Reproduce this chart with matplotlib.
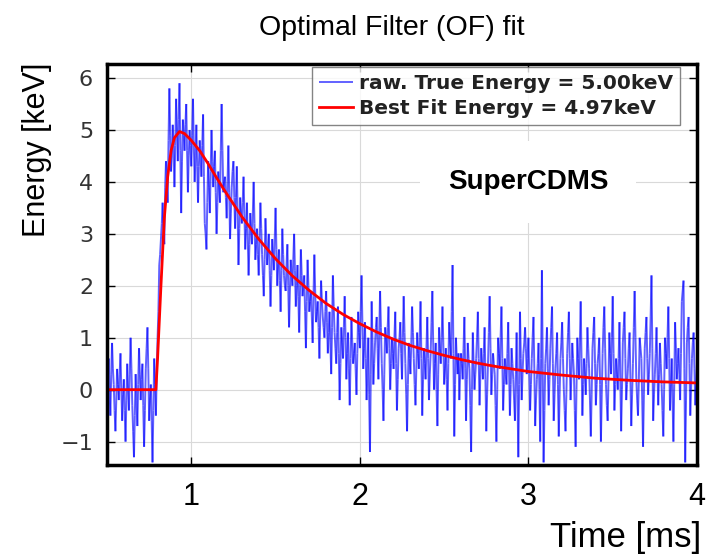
import matplotlib
matplotlib.use("Agg")
import matplotlib.pyplot as plt
import numpy as np
from matplotlib.collections import LineCollection

# raw pulse: samples on the 0.01 ms grid starting at 0.50 ms
t_start = 0.50
t_step = 0.01
raw_energy = [
    -0.3, 0.6, -0.5, 0.9, 0.1, -0.8, 0.4, -0.2, 0.7, -0.6,
    0.2, -1.0, 0.5, -0.4, 1.0, -0.3, -1.3, 0.3, -0.7, 0.8,
    -0.2, 0.5, -1.1, 0.4, 1.2, -0.6, 0.1, -1.4, 0.6, -0.5,
    1.0, 2.4, 2.9, 3.6, 2.8, 4.4, 3.6, 5.8, 4.2, 5.1,
    3.9, 5.6, 4.4, 5.9, 3.4, 5.2, 4.6, 5.5, 3.8, 5.0,
    4.3, 5.6, 4.0, 5.1, 3.6, 4.8, 4.1, 5.3, 3.2, 2.7,
    4.4, 3.4, 5.0, 3.9, 4.6, 3.0, 4.2, 3.6, 5.5, 3.8,
    4.1, 3.3, 4.7, 2.9, 3.9, 4.4, 3.1, 4.3, 2.4, 3.7,
    3.2, 4.1, 2.7, 3.6, 2.2, 3.4, 2.8, 4.0, 2.5, 3.1,
    2.2, 3.6, 2.6, 1.8, 3.3, 2.4, 3.0, 1.6, 2.9, 2.3,
    3.5, 2.0, 2.7, 1.5, 3.1, 2.2, 1.9, 2.8, 1.2, 2.5,
    2.0, 3.0, 1.6, 2.4, 1.1, 2.7, 1.8, 2.2, 0.8, 2.5,
    1.5, 1.9, 0.9, 2.6, 1.3, 1.7, 0.6, 2.1, 1.4, 1.0,
    1.9, 0.7, 1.5, 0.3, 2.2, 1.1, 0.5, 1.6, -0.2, 1.2,
    0.6, 1.8, 0.2, 1.1, -0.3, 1.4, 0.5, 0.9, -0.1, 1.5,
    0.8, 2.2, 0.4, 1.3, -0.2, 1.0, -1.2, 1.7, 0.1, 0.9,
    1.4, 0.2, 1.9, 0.5, -0.6, 1.2, 0.7, 1.6, 0.0, 1.0,
    0.4, 1.5, -0.4, 0.8, 1.3, 0.2, 1.8, 0.5, -0.8, 0.9,
    0.3, 1.6, 0.6, -0.3, 1.1, 0.4, 1.7, -0.5, 0.8, 0.2,
    1.4, -0.2, 0.7, 1.9, 0.0, 0.9, -0.7, 1.2, 0.5, 1.6,
    0.1, 0.8, -0.4, 1.3, 0.6, 2.4, -0.9, 1.0, 0.3, -0.2,
    0.7, 0.2, 1.4, -0.6, 0.9, 0.4, -1.2, 1.1, 0.0, 0.6,
    1.5, -0.3, 0.8, 0.2, 1.2, -0.8, 0.5, 1.8, -0.1, 0.7,
    0.3, -1.0, 1.0, 0.4, 1.6, -0.4, 0.6, 0.1, 1.3, -0.5,
    0.8, 0.2, -0.6, 1.1, -1.3, 1.5, -0.2, 0.7, 1.2, 0.3,
    1.0, -0.4, 0.6, 1.4, -0.7, 0.2, 0.9, -1.0, 2.3, -1.4,
    0.5, 1.2, -0.3, 0.8, 1.6, -0.6, 0.4, 1.1, -0.9, 0.6,
    1.3, 0.0, -0.8, 0.7, 1.5, -0.2, 0.9, 0.3, -1.1, 1.0,
    0.2, 1.7, -0.5, 0.6, -0.1, 1.2, 0.4, -0.9, 0.8, 1.4,
    -0.3, 0.5, 1.0, -1.0, 0.7, 1.6, 0.1, -0.6, 1.1, 0.3,
    1.8, -0.4, 0.6, 0.0, 1.3, -0.8, 0.9, 1.5, -0.2, 0.4,
    1.1, -0.7, 0.5, 1.9, 0.2, -0.5, 1.0, 0.6, -1.1, 0.8,
    1.4, -0.1, 0.7, 2.2, -0.6, 0.3, 1.2, -0.3, 0.9, 0.1,
    -0.9, 1.0, 0.4, 1.6, -0.4, 0.6, -1.0, 1.3, 0.2, 0.8,
    -0.2, 1.7, 2.1, -1.4, 0.9, 1.4, -0.5, 0.6, 1.1, -0.3,
    0.5,
]
# samples half way between the ones above (0.505 ms, 0.515 ms, ...)
raw_energy_mid = [
    0.2, 0.0, 0.3, 0.4, -0.4, -0.2, 0.1, 0.3, 0.0, -0.1,
    -0.4, -0.2, 0.0, 0.3, 0.4, -0.8, -0.5, -0.2, 0.1, 0.3,
    0.2, -0.3, -0.4, 0.8, 0.4, -0.2, -0.6, -0.4, 0.1, 0.3,
    1.5, 2.6, 3.2, 3.0, 3.9, 4.0, 4.8, 4.9, 4.5, 4.7,
    4.7, 5.0, 5.2, 4.6, 4.4, 4.9, 5.1, 4.6, 4.5, 4.7,
    4.9, 4.7, 4.5, 4.3, 4.3, 4.5, 4.7, 4.1, 3.0, 3.6,
    3.9, 4.2, 4.4, 4.3, 3.8, 3.6, 3.9, 4.6, 4.6, 4.0,
    3.7, 4.0, 3.8, 3.4, 4.2, 3.7, 3.7, 3.4, 3.1, 3.4,
    3.6, 3.4, 3.1, 2.9, 2.8, 3.1, 3.4, 3.2, 2.8, 2.6,
    2.9, 3.1, 2.2, 2.5, 2.9, 2.7, 2.3, 2.2, 2.6, 2.9,
    2.7, 2.4, 2.1, 2.3, 2.6, 2.0, 2.4, 2.0, 1.9, 2.2,
    2.5, 2.3, 2.0, 1.8, 1.9, 2.2, 2.0, 1.5, 1.7, 2.0,
    1.7, 1.4, 1.8, 1.9, 1.5, 1.2, 1.4, 1.7, 1.2, 1.5,
    1.3, 1.1, 0.9, 1.2, 1.6, 0.8, 1.1, 0.7, 0.5, 0.9,
    1.2, 1.0, 0.7, 0.4, 0.6, 0.9, 0.7, 0.4, 0.7, 1.1,
    1.5, 1.3, 0.8, 0.6, 0.4, -0.1, 0.3, 0.9, 0.5, 1.2,
    0.8, 1.1, 1.2, 0.0, 0.3, 1.0, 1.2, 0.8, 0.5, 0.7,
    1.0, 0.5, 0.2, 1.0, 0.7, 1.0, 1.1, -0.1, 0.1, 0.6,
    0.9, 1.1, 0.1, 0.4, 0.7, 1.0, 0.6, 0.2, 0.5, 0.8,
    0.6, 0.3, 1.3, 0.9, 0.5, 0.0, 0.3, 0.8, 1.0, 0.9,
    0.4, 0.2, 0.5, 0.9, 1.5, 0.7, 0.1, 0.6, 0.7, 0.3,
    0.5, 0.8, 0.4, 0.2, 0.6, -0.3, 0.0, 0.5, 0.3, 1.0,
    0.6, 0.3, 0.5, 0.7, 0.2, -0.1, 1.1, 0.8, 0.3, 0.5,
    -0.3, 0.0, 0.7, 1.0, 0.6, 0.1, 0.3, 0.7, 0.4, 0.1,
    0.5, -0.2, 0.3, -0.1, 0.1, 0.6, 0.3, 0.9, 0.8, 0.6,
    0.3, 0.1, 1.0, 0.4, -0.2, 0.5, 0.0, 0.6, 0.4, -0.4,
    0.8, 0.4, 0.2, 1.2, 0.5, -0.1, 0.7, 0.1, -0.1, 0.9,
    0.6, -0.4, -0.1, 1.1, 0.6, 0.3, 0.6, -0.4, 0.0, 0.6,
    0.9, 0.6, 0.1, 0.3, 0.5, 0.8, -0.2, -0.1, 1.1, 0.5,
    0.1, 0.7, 0.1, -0.1, 1.2, 0.8, -0.3, 0.2, 0.7, 1.0,
    0.7, 0.1, 0.3, 0.6, 0.2, 0.0, 1.2, 0.6, 0.1, 0.8,
    0.2, -0.1, 1.2, 1.0, -0.2, 0.2, 0.8, -0.2, -0.1, 1.1,
    0.6, 0.3, 1.4, 0.8, -0.1, 0.7, 0.4, 0.3, 0.5, -0.4,
    0.0, 0.7, 1.0, 0.6, 0.1, -0.2, 0.1, 0.8, 0.5, 0.3,
    0.7, 1.9, 0.4, -0.2, 1.2, 0.5, 0.0, 0.9, 0.4, 0.1,
]

# optimal filter fit
fit_time = [0.50, 0.79, 0.80, 0.82, 0.84, 0.86, 0.88, 0.90, 0.93, 0.96,
            1.00, 1.05, 1.10, 1.15, 1.20, 1.30, 1.40, 1.50, 1.60, 1.70,
            1.80, 1.90, 2.00, 2.10, 2.20, 2.30, 2.40, 2.50, 2.60, 2.70,
            2.80, 2.90, 3.00, 3.20, 3.40, 3.60, 3.80, 4.00]
fit_energy = [0.0, 0.0, 0.6, 2.0, 3.3, 4.1, 4.6, 4.85, 4.97, 4.93,
              4.80, 4.60, 4.35, 4.08, 3.82, 3.33, 2.90, 2.52, 2.19, 1.91,
              1.66, 1.45, 1.27, 1.11, 0.97, 0.85, 0.75, 0.66, 0.58, 0.51,
              0.45, 0.40, 0.35, 0.28, 0.22, 0.18, 0.15, 0.13]

true_energy = 5.00
best_fit = 4.97

# merge the two sample sets into one trace
t_a = t_start + t_step * np.arange(len(raw_energy))
t_b = t_start + t_step / 2 + t_step * np.arange(len(raw_energy_mid))
raw_time = np.concatenate([t_a, t_b])
raw_vals = np.concatenate([raw_energy, raw_energy_mid])
order = np.argsort(raw_time)
raw_time, raw_vals = raw_time[order], raw_vals[order]

fig = plt.figure(figsize=(7.07, 5.56), dpi=100)
ax = fig.add_axes([107/707, 1 - 465/556, 590/707, 401/556])

pts = np.column_stack([raw_time, raw_vals])
segs = np.stack([pts[:-1], pts[1:]], axis=1)
raw = LineCollection(segs, colors=[(0, 0, 1, 0.62)], linewidths=1.4,
                     label="raw. True Energy = %.2fkeV" % true_energy)
ax.add_collection(raw)
ax.plot(fit_time, fit_energy, color="red", lw=2,
        label="Best Fit Energy = %.2fkeV" % best_fit)

ax.set_xlim(0.5, 4.0)
ax.set_ylim(-1.45, 6.27)
ax.set_xticks([1, 2, 3, 4])
ax.set_yticks(range(-1, 7))
ax.grid(True, color="#d9d9d9", lw=0.8)
ax.set_axisbelow(True)

for s in ax.spines.values():
    s.set_linewidth(2.5)
ax.tick_params(direction="in", length=6, width=1, top=True, right=True)
ax.tick_params(axis="x", pad=12, labelsize=22)
ax.tick_params(axis="y", pad=10, labelsize=16, labelcolor="#333333")
for lab in ax.get_xticklabels():
    lab.set_family("Liberation Sans")

ax.text(3.0, 4.0, "SuperCDMS", ha="center", va="center", fontsize=20,
        weight="bold", family="Liberation Sans",
        bbox=dict(boxstyle="square,pad=1.0", fc="white", ec="none"))

leg = ax.legend(loc="upper right", bbox_to_anchor=(0.972, 0.993),
                borderaxespad=0, fancybox=False, handlelength=1.7,
                handletextpad=0.3, borderpad=0.35, labelspacing=0.3,
                prop=dict(family="DejaVu Sans", weight="bold", size=14.5))
leg.get_frame().set_edgecolor("#666666")
leg.get_frame().set_linewidth(1)
for txt in leg.get_texts():
    txt.set_color("#222222")

fig.text(392/707, 1 - 28/556, "Optimal Filter (OF) fit", ha="center",
         va="center", fontsize=20.5, family="Liberation Sans")
fig.text(37/707, 1 - 150/556, "Energy [keV]", rotation=90, ha="center",
         va="center", fontsize=22, family="Liberation Sans")
fig.text(626/707, 1 - 537/556, "Time [ms]", ha="center", va="center",
         fontsize=25, family="Liberation Sans")

fig.savefig("out.png", dpi=100)
